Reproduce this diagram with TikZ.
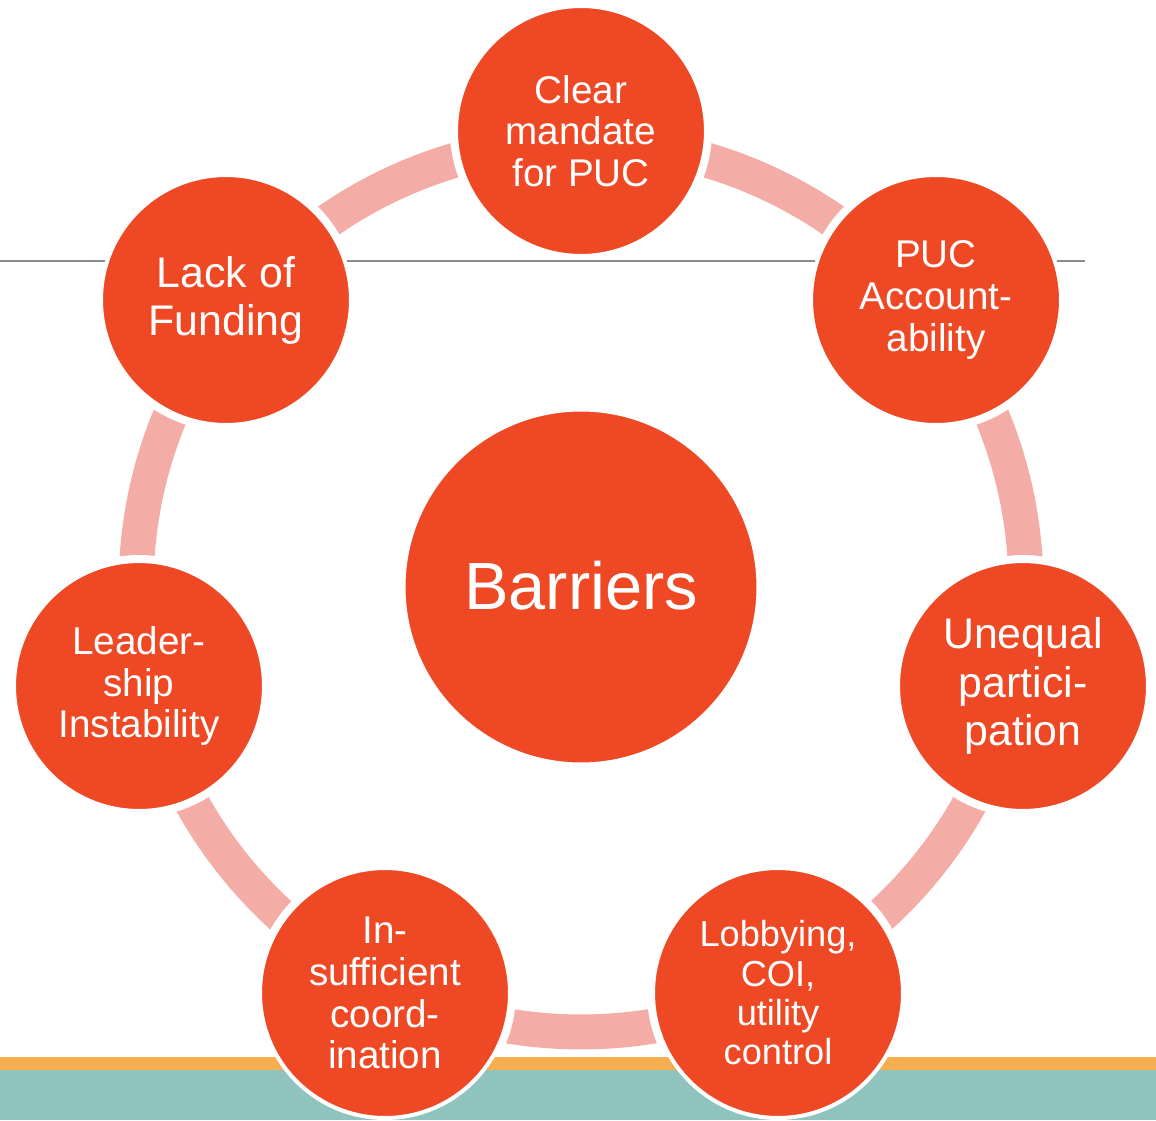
\documentclass[tikz,border=0pt]{standalone}
\usepackage{fontspec}
\setmainfont{Liberation Sans}
\definecolor{nodefill}{RGB}{238,73,36}
\definecolor{ringpink}{RGB}{244,172,166}
\definecolor{striporange}{RGB}{247,174,80}
\definecolor{stripteal}{RGB}{143,196,190}
\definecolor{rulegray}{RGB}{140,140,140}
\begin{document}
\begin{tikzpicture}[x=0.02cm,y=-0.02cm,
  outer/.style={circle, fill=nodefill, draw=white, line width=0.08cm,
    minimum size=5cm, inner sep=0pt, align=center, text=white},
  gapdisk/.style={fill=white},
  fmid/.style={font=\fontsize{22}{23.8}\selectfont},
  fbig/.style={font=\fontsize{24.4}{27.4}\selectfont},
  fsmall/.style={font=\fontsize{20.6}{22.4}\selectfont},
  ringstyle/.style={draw=ringpink, line width=0.7cm},
  rulestyle/.style={draw=rulegray, line width=0.03cm}]
\useasboundingbox (0,0) rectangle (1156,1120);
\coordinate (c) at (581,587);
% ring
\draw[ringstyle] (c) circle[radius=8.9cm];
% positions
\coordinate (p1) at (581,131);
\coordinate (p2) at (936,300);
\coordinate (p3) at (1023,686);
\coordinate (p4) at (778,993);
\coordinate (p5) at (385,993);
\coordinate (p6) at (139,686);
\coordinate (p7) at (226,300);
% white gaps around outer circles
\foreach \p in {p1,p2,p3,p4,p5,p6,p7}
  \fill[gapdisk] (\p) circle[radius=2.62cm];
% horizontal rule
\coordinate (rl) at (0,261);
\coordinate (rr) at (1085,261);
\draw[rulestyle] (rl) -- (rr);
% bottom strips
\fill[striporange] (0,1057) rectangle (1156,1070);
\fill[stripteal] (0,1070) rectangle (1156,1120);
% center
\node[outer, minimum size=7.1cm, font=\fontsize{38}{41}\selectfont] (barriers) at (c) {\raisebox{0.08cm}{Barriers}};
% outer nodes
\node[outer, fmid] (mandate) at (p1) {Clear\\mandate\\for PUC};
\node[outer, fmid] (account) at (p2) {PUC\\Account-\\ability};
\node[outer, fbig] (unequal) at (p3) {Unequal\\partici-\\pation};
\node[outer, fsmall] (lobby) at (p4) {Lobbying,\\COI,\\utility\\control};
\node[outer, fmid] (coord) at (p5) {In-\\sufficient\\coord-\\ination};
\node[outer, fmid] (leader) at (p6) {Leader-\\ship\\Instability};
\node[outer, fbig] (funding) at (p7) {\raisebox{-0.08cm}{\parbox{4cm}{\centering Lack of\\Funding}}};
\end{tikzpicture}
\end{document}
